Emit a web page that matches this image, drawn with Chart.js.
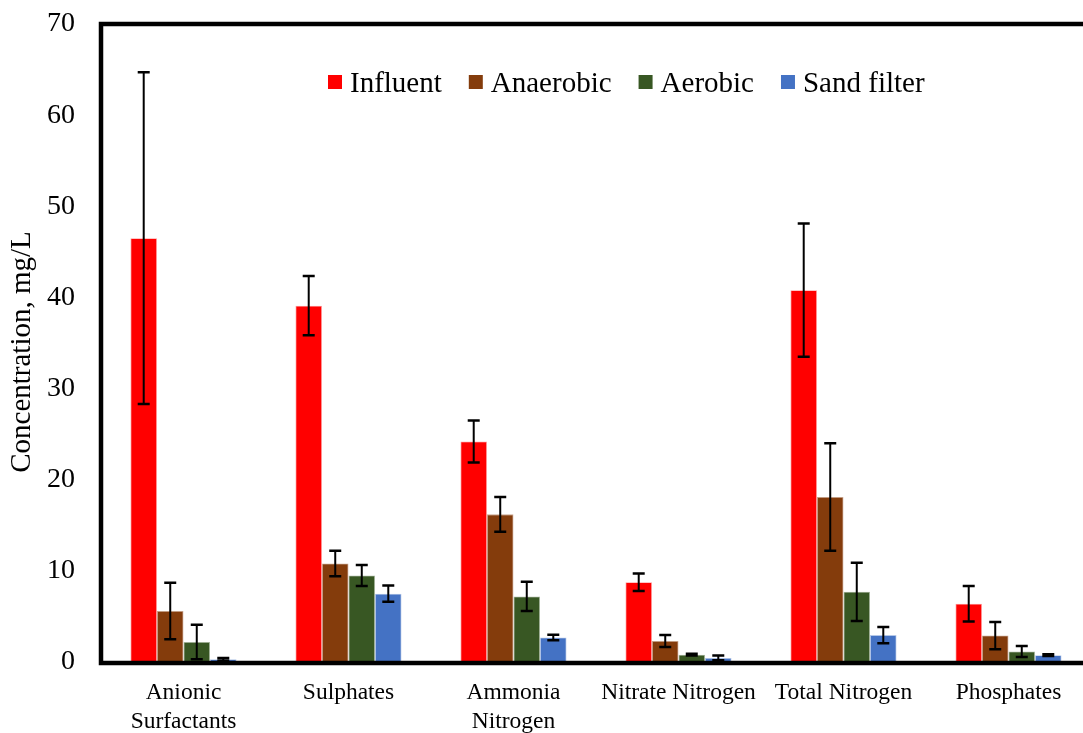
<!DOCTYPE html>
<html>
<head>
<meta charset="utf-8">
<script src="https://cdn.jsdelivr.net/npm/chart.js@4.4.0/dist/chart.umd.min.js"></script>
<style>
  html, body { margin: 0; padding: 0; background: #ffffff; overflow: hidden; }
  #wrap { width: 1083px; height: 733px; overflow: hidden; }
  canvas { display: block; }
</style>
</head>
<body>
<div id="wrap"><canvas id="chart" width="1100" height="733"></canvas></div>
<script>
// Parameters measured at each treatment stage
const categories = [
  ['Anionic', 'Surfactants'],
  'Sulphates',
  ['Ammonia', 'Nitrogen'],
  'Nitrate Nitrogen',
  'Total Nitrogen',
  'Phosphates'
];
const seriesNames = ['Influent', 'Anaerobic', 'Aerobic', 'Sand filter'];

// Mean concentrations, mg/L
const influent   = [46.5, 39.1, 24.2, 8.75, 40.8, 6.4];
const anaerobic  = [5.6, 10.8, 16.2, 2.3, 18.1, 2.9];
const aerobic    = [2.2, 9.5, 7.2, 0.8, 7.7, 1.15];
const sandFilter = [0.3, 7.5, 2.7, 0.45, 2.95, 0.75];

// Standard deviations, mg/L
const influentErr   = [18.2, 3.25, 2.3, 0.95, 7.3, 1.95];
const anaerobicErr  = [3.1, 1.4, 1.9, 0.65, 5.9, 1.5];
const aerobicErr    = [1.9, 1.15, 1.6, 0.1, 3.2, 0.6];
const sandFilterErr = [0.15, 0.9, 0.3, 0.25, 0.9, 0.1];

const yTicks = [0, 10, 20, 30, 40, 50, 60, 70];
const yTitle = 'Concentration, mg/L';

const colors = ['#FF0000', '#843C0C', '#385723', '#4472C4'];
const edgeColors = ['#FF9A9A', '#C9A58E', '#A9B8A0', '#B4C7E7'];
const values = [influent, anaerobic, aerobic, sandFilter];
const errors = [influentErr, anaerobicErr, aerobicErr, sandFilterErr];

const SERIF = '"Liberation Serif", "Times New Roman", serif';

// Black frame around the plot (top, left, bottom)
const framePlugin = {
  id: 'frame',
  afterDatasetsDraw(chart) {
    const { ctx, chartArea: a } = chart;
    ctx.save();
    ctx.strokeStyle = '#000';
    ctx.lineWidth = 4.5;
    ctx.lineCap = 'square';
    ctx.beginPath();
    ctx.moveTo(a.right + 10, a.top);
    ctx.lineTo(a.left, a.top);
    ctx.lineTo(a.left, a.bottom + 1);
    ctx.lineTo(a.right + 10, a.bottom + 1);
    ctx.stroke();
    ctx.restore();
  }
};

// Error bars with caps, placed through the value scale
const errorBarPlugin = {
  id: 'errorBars',
  afterDatasetsDraw(chart) {
    const { ctx } = chart;
    const y = chart.scales.y;
    ctx.save();
    ctx.strokeStyle = '#000';
    chart.data.datasets.forEach((ds, i) => {
      const meta = chart.getDatasetMeta(i);
      meta.data.forEach((bar, j) => {
        const v = ds.data[j];
        const e = ds.errors[j];
        const yt = y.getPixelForValue(v + e);
        const yb = y.getPixelForValue(Math.max(v - e, 0));
        const x = bar.x;
        ctx.lineWidth = 2;
        ctx.beginPath();
        ctx.moveTo(x, yt);
        ctx.lineTo(x, yb);
        ctx.stroke();
        ctx.lineWidth = 2.5;
        ctx.beginPath();
        ctx.moveTo(x - 6, yt);
        ctx.lineTo(x + 6, yt);
        ctx.moveTo(x - 6, yb);
        ctx.lineTo(x + 6, yb);
        ctx.stroke();
      });
    });
    ctx.restore();
  }
};

// Legend drawn inside the plot, one row
const legendPlugin = {
  id: 'insideLegend',
  afterDraw(chart) {
    const { ctx } = chart;
    ctx.save();
    ctx.font = '29px ' + SERIF;
    ctx.textBaseline = 'alphabetic';
    ctx.fillStyle = '#000';
    let x = 328;
    chart.data.datasets.forEach(ds => {
      ctx.fillStyle = ds.backgroundColor;
      ctx.fillRect(x, 75, 14, 14);
      ctx.fillStyle = '#000';
      ctx.fillText(ds.label, x + 22, 92);
      x += 22 + ctx.measureText(ds.label).width + 27;
    });
    ctx.restore();
  }
};

// Rotated value-axis title
const yTitlePlugin = {
  id: 'yTitle',
  afterDraw(chart) {
    const { ctx } = chart;
    ctx.save();
    ctx.translate(22, 352);
    ctx.rotate(-Math.PI / 2);
    ctx.font = '29px ' + SERIF;
    ctx.fillStyle = '#000';
    ctx.textAlign = 'center';
    ctx.textBaseline = 'middle';
    ctx.fillText(yTitle, 0, 0);
    ctx.restore();
  }
};

new Chart(document.getElementById('chart'), {
  type: 'bar',
  data: {
    labels: categories,
    datasets: seriesNames.map((name, i) => ({
      label: name,
      data: values[i],
      errors: errors[i],
      backgroundColor: colors[i],
      borderColor: edgeColors[i],
      borderWidth: 0.8,
      categoryPercentage: 0.643,
      barPercentage: 1.0
    }))
  },
  options: {
    responsive: false,
    animation: false,
    devicePixelRatio: 1,
    layout: { padding: { top: 24, right: 9, left: 0, bottom: 0 } },
    plugins: {
      legend: { display: false },
      tooltip: { enabled: false }
    },
    scales: {
      x: {
        offset: true,
        grid: { display: false, drawTicks: false },
        border: { display: false },
        ticks: {
          color: '#000',
          font: { family: SERIF, size: 23.5, lineHeight: 1.25 },
          padding: 16,
          maxRotation: 0,
          autoSkip: false
        },
        afterFit(scale) { scale.height = 71; }
      },
      y: {
        min: 0,
        max: 70,
        afterBuildTicks(scale) { scale.ticks = yTicks.map(v => ({ value: v })); },
        grid: { display: false, drawTicks: false },
        border: { display: false },
        ticks: {
          color: '#000',
          font: { family: SERIF, size: 28 },
          padding: 26
        },
        afterFit(scale) {
          scale.width = 101;
          scale.paddingTop = 0;
          scale.paddingBottom = 0;
        }
      }
    }
  },
  plugins: [framePlugin, errorBarPlugin, legendPlugin, yTitlePlugin]
});
</script>
</body>
</html>
